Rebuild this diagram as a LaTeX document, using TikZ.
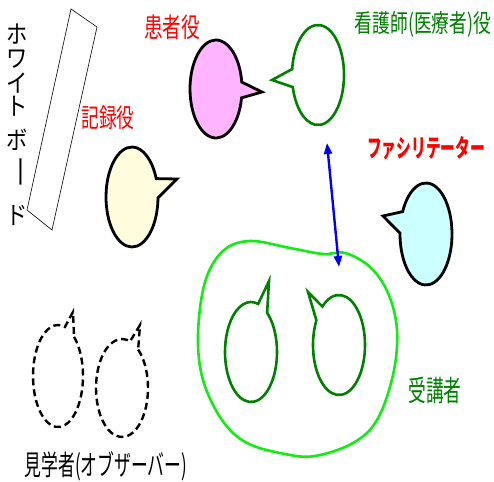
\documentclass[tikz,border=0pt]{standalone}
\usepackage{fontspec}
\newfontfamily\jp{Noto Sans CJK JP}
\usetikzlibrary{arrows.meta}
\definecolor{pinkfill}{RGB}{255,180,255}
\definecolor{creamfill}{RGB}{255,253,222}
\definecolor{cyanfill}{RGB}{204,255,255}
\definecolor{dgreen}{RGB}{0,128,0}
\definecolor{lgreen}{RGB}{20,235,20}
\definecolor{myred}{RGB}{255,0,0}
\newcommand\bubble[9]{\draw[#1] (#2,#3) ++(#6:#4 and #5) arc[start angle=#6,end angle=#7,x radius=#4,y radius=#5] -- (#8,#9) -- cycle;}
\begin{document}
\begin{tikzpicture}[x=1pt,y=-1pt,
  filled/.style={draw=black,line width=2.8pt},
  outl/.style={draw=dgreen,line width=2.6pt},
  obs/.style={draw=black,line width=2.4pt,dash pattern=on 7pt off 4pt},
  lbl/.style={inner sep=0pt,font=\jp},
  wb/.style={inner sep=0pt,font=\jp\fontsize{25}{25}\selectfont,xscale=0.85}]
\useasboundingbox (0,0) rectangle (494,481);
\fill[white] (0,0) rectangle (494,481);
% whiteboard
\draw[line width=0.6pt] (71,9) -- (97,27) -- (52,230) -- (27,210) -- cycle;
\node[wb] (w1) at (17,34) {ホ};
\node[wb] (w2) at (17,59) {ワ};
\node[wb] (w3) at (17,83) {イ};
\node[wb] (w4) at (17,106) {ト};
\node[wb] (w5) at (17,140) {ボ};
\node[inner sep=0pt,font=\jp\fontsize{22}{22}\selectfont,rotate=-90,xscale=1.5] (w6) at (17,172) {ー};
\node[wb] (w7) at (17,215) {ド};
% labels
\node[lbl,text=myred,font=\jp\fontsize{27}{27}\selectfont,xscale=0.69] (kanja) at (172,27) {患者役};
\node[lbl,text=dgreen,font=\jp\fontsize{25}{25}\selectfont,xscale=0.71] (kango) at (423,24) {看護師(医療者)役};
\node[lbl,text=myred,font=\jp\fontsize{26}{26}\selectfont,xscale=0.68] (kiroku) at (108,118) {記録役};
\node[lbl,text=myred,font=\jp\bfseries\fontsize{25}{25}\selectfont,xscale=0.59] (fasi) at (426,148) {ファシリテーター};
\node[lbl,text=dgreen,font=\jp\fontsize{29}{29}\selectfont,xscale=0.61] (juko) at (435,390) {受講者};
\node[lbl,text=black,font=\jp\fontsize{28}{28}\selectfont,xscale=0.6] (kengaku) at (106,466) {見学者(オブザーバー)};
% bubbles
\bubble{filled,fill=pinkfill}{216}{89}{26}{49}{10.4}{351.9}{262}{92}
\bubble{outl}{318}{75}{26}{50}{186.8}{526}{272}{80}
\bubble{filled,fill=creamfill}{132}{197}{26}{50}{1}{338.4}{177}{179}
\bubble{filled,fill=cyanfill}{426}{234}{26}{51}{206}{541}{383}{216}
\bubble{outl}{251}{352}{26}{50}{-51.7}{286}{269}{281}
\bubble{outl}{339}{345}{26}{50}{230.3}{569.6}{308}{292}
\bubble{obs}{58}{376}{25}{51}{-50}{286}{73}{312}
\bubble{obs}{122}{388}{26}{49}{-51.6}{288}{140}{325}
% group blob
\draw[lgreen,line width=2.6pt] plot[smooth cycle,tension=0.6] coordinates {
 (250,241) (290,248) (323,254) (345,253) (370,267) (388,293) (397,330)
 (393,375) (377,420) (353,443) (315,456) (285,454) (247,443) (222,420)
 (203,380) (198,335) (205,282) (223,251)};
% arrow
\coordinate (atop) at (327,143);
\coordinate (abot) at (339,267);
\draw[blue,line width=2.4pt,{Triangle[length=11pt,width=8pt]}-{Triangle[length=11pt,width=8pt]}] (atop) -- (abot);
\end{tikzpicture}
\end{document}
